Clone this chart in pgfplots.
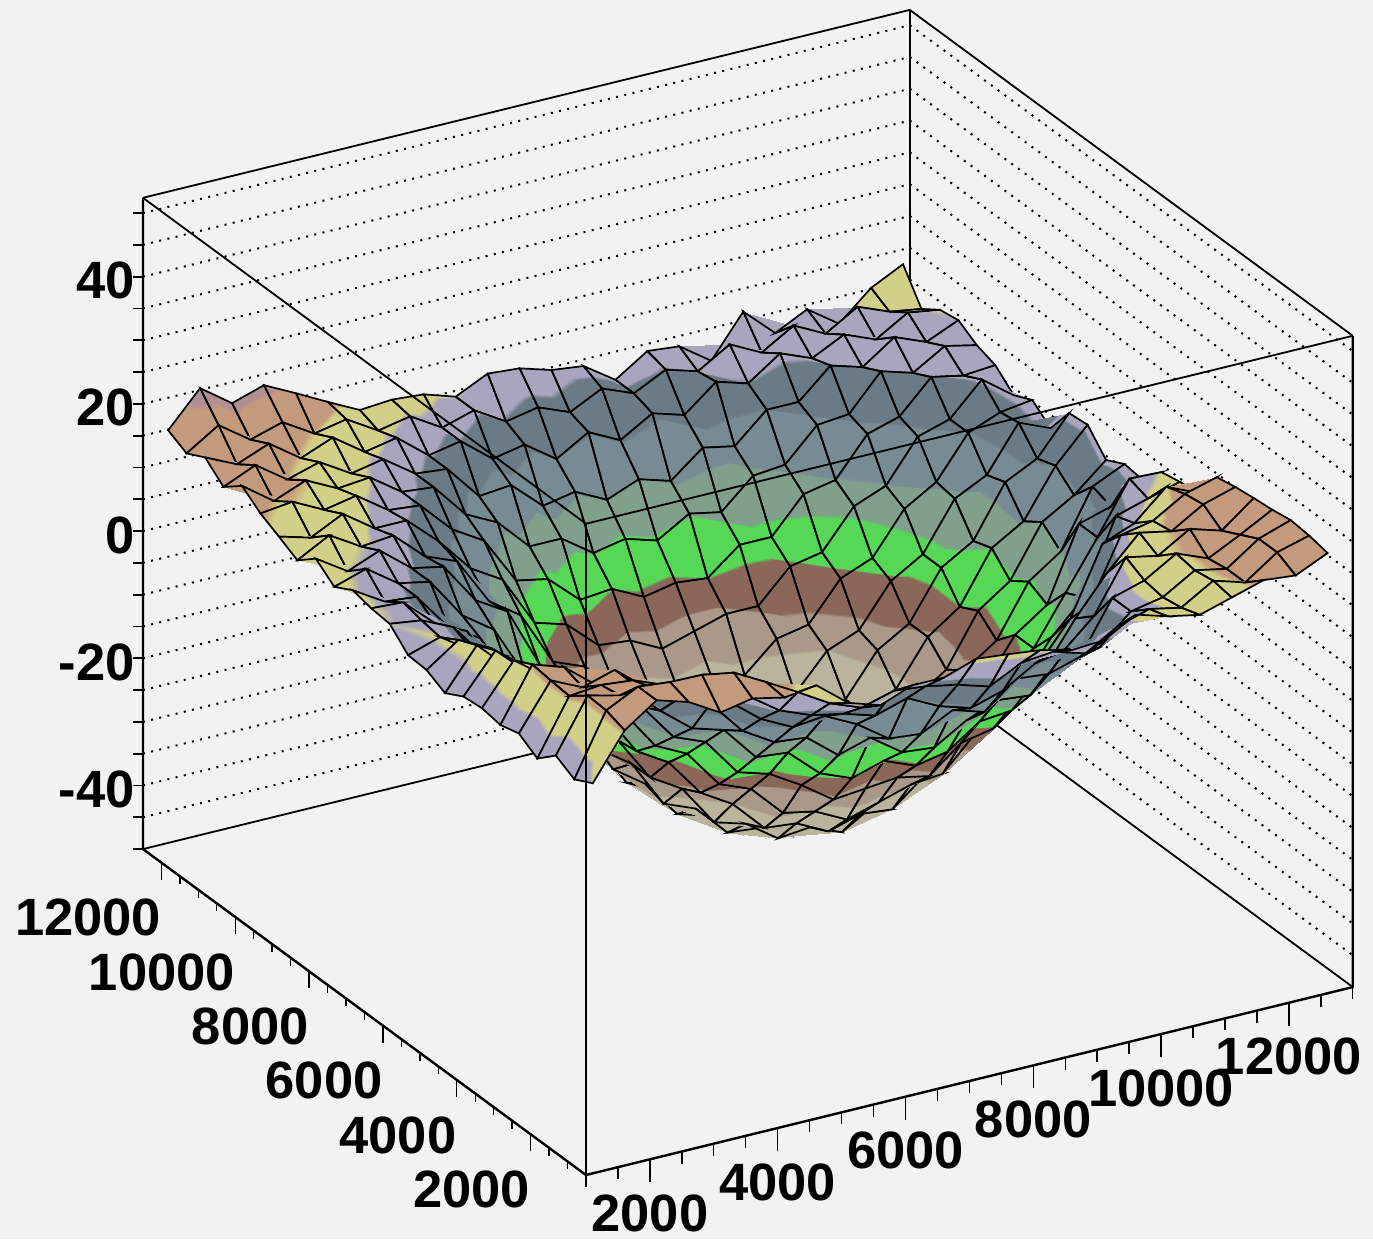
\documentclass[border=0pt]{standalone}
\usepackage{fontspec}
\setmainfont{Liberation Sans}
\usepackage{pgfplots}
\usepackage{pgfplotstable}
\pgfplotsset{compat=1.18}
\definecolor{bg}{HTML}{F2F2F2}
\definecolor{ca}{RGB}{185,180,155}
\definecolor{cb}{RGB}{170,152,136}
\definecolor{cc}{RGB}{138,103,88}
\definecolor{cd}{RGB}{86,215,86}
\definecolor{ce}{RGB}{128,160,140}
\definecolor{cf}{RGB}{118,139,147}
\definecolor{cg}{RGB}{107,122,135}
\definecolor{ch}{RGB}{170,165,190}
\definecolor{ci}{RGB}{210,208,136}
\definecolor{ck}{RGB}{196,154,124}
\definecolor{cm}{RGB}{176,144,148}
\pgfplotsset{
 colormap={allblack}{color=(black) color=(black)},
 colormap={rootbands}{
  color=(ca) color=(ca) color=(ca) color=(ca) color=(ca) color=(ca) color=(ca) color=(ca) color=(ca) color=(ca) color=(ca) color=(ca)
  color=(cb) color=(cb) color=(cb) color=(cb) color=(cb) color=(cb) color=(cb) color=(cb) color=(cb) color=(cb) color=(cb) color=(cb) color=(cb) color=(cb) color=(cb) color=(cb) color=(cb) color=(cb) color=(cb) color=(cb) color=(cb)
  color=(cc) color=(cc) color=(cc) color=(cc) color=(cc) color=(cc) color=(cc) color=(cc) color=(cc) color=(cc) color=(cc) color=(cc) color=(cc) color=(cc) color=(cc) color=(cc) color=(cc) color=(cc)
  color=(cd) color=(cd) color=(cd) color=(cd) color=(cd) color=(cd) color=(cd) color=(cd) color=(cd) color=(cd) color=(cd) color=(cd) color=(cd) color=(cd) color=(cd) color=(cd) color=(cd) color=(cd) color=(cd) color=(cd) color=(cd)
  color=(ce) color=(ce) color=(ce) color=(ce) color=(ce) color=(ce) color=(ce) color=(ce) color=(ce) color=(ce) color=(ce) color=(ce) color=(ce) color=(ce) color=(ce) color=(ce) color=(ce) color=(ce) color=(ce) color=(ce) color=(ce)
  color=(cf) color=(cf) color=(cf) color=(cf) color=(cf) color=(cf) color=(cf) color=(cf) color=(cf) color=(cf) color=(cf) color=(cf) color=(cf) color=(cf) color=(cf) color=(cf) color=(cf) color=(cf) color=(cf) color=(cf) color=(cf) color=(cf) color=(cf)
  color=(cg) color=(cg) color=(cg) color=(cg) color=(cg) color=(cg) color=(cg) color=(cg) color=(cg) color=(cg) color=(cg) color=(cg) color=(cg) color=(cg) color=(cg) color=(cg) color=(cg) color=(cg) color=(cg)
  color=(ch) color=(ch) color=(ch) color=(ch) color=(ch) color=(ch) color=(ch) color=(ch) color=(ch) color=(ch)
  color=(ci) color=(ci) color=(ci) color=(ci) color=(ci) color=(ci) color=(ci) color=(ci) color=(ci)
  color=(ck) color=(ck) color=(ck) color=(ck) color=(ck) color=(ck) color=(ck) color=(ck) color=(ck) color=(ck) color=(ck) color=(ck) color=(ck)
  color=(cm) color=(cm) color=(cm) color=(cm) color=(cm) color=(cm) color=(cm) color=(cm) color=(cm) color=(cm) color=(cm) color=(cm) color=(cm)
 },
}
\pgfplotstableread{
x y z m
1250 750 9.9 11.5
1750 750 17 13.8
2250 750 20.5 15
2750 750 19 16
3250 750 16.1 16.5
3750 750 17.1 16
4250 750 16 13.8
4750 750 16.7 12.8
5250 750 12.7 12.6
5750 750 11.1 12.5
6250 750 13 12.2
6750 750 13 12
7250 750 14.7 12
7750 750 14.2 12
8250 750 13.6 12
8750 750 12.4 12
9250 750 12.7 12
9750 750 15.5 12.2
10250 750 14 12.4
10750 750 13 12.6
11250 750 14.5 13
11750 750 16 14
12250 750 15.5 15
12750 750 17.8 16
}\rA
\pgfplotstableread{
x y z m
1250 1250 8.4 10
1750 1250 18 14
2250 1250 20.5 15.5
2750 1250 20 16
3250 1250 19.9 16.5
3750 1250 19 16
4250 1250 16.3 14.5
4750 1250 13.5 11.5
5250 1250 10.5 10.3
5750 1250 8.6 9.3
6250 1250 10 8.6
6750 1250 9.5 8
7250 1250 8.5 7.8
7750 1250 7 7.8
8250 1250 9.5 8
8750 1250 10 8.6
9250 1250 8.5 9.3
9750 1250 11.5 10.3
10250 1250 13 11.6
10750 1250 12 12
11250 1250 15 13
11750 1250 13.5 13.8
12250 1250 17 15.5
12750 1250 18.4 16
}\rB
\pgfplotstableread{
x y z m
1250 1750 10 10
1750 1750 18.2 14
2250 1750 17 15.5
2750 1750 17 16
3250 1750 15.5 16
3750 1750 14 14.5
4250 1750 12 11
4750 1750 8.5 9.1
5250 1750 6.5 7.8
5750 1750 5.5 6.2
6250 1750 4 4.9
6750 1750 5.5 3.9
7250 1750 3 3.4
7750 1750 1.5 3.4
8250 1750 3 3.9
8750 1750 6 4.9
9250 1750 7 6.2
9750 1750 6 7.8
10250 1750 10.5 9.5
10750 1750 11.5 12.5
11250 1750 14.5 13.3
11750 1750 13.5 14
12250 1750 17 15.5
12750 1750 18.7 16
}\rC
\pgfplotstableread{
x y z m
1250 2250 7.4 9.8
1750 2250 16 13.8
2250 2250 16.5 15.5
2750 2250 16 15.5
3250 2250 14 14.5
3750 2250 10 11
4250 2250 9 8.3
4750 2250 5 6.2
5250 2250 2.5 3.9
5750 2250 3 1.9
6250 2250 0.5 0
6750 2250 -3 -1.3
7250 2250 -3.5 -1.9
7750 2250 -1 -1.9
8250 2250 -2.5 -1.3
8750 2250 1.5 0
9250 2250 1 1.9
9750 2250 2.5 3.9
10250 2250 10.5 9.8
10750 2250 12 12.5
11250 2250 15 13.3
11750 2250 13 14
12250 2250 15.5 15.5
12750 2250 18.2 16
}\rD
\pgfplotstableread{
x y z m
1250 2750 9.2 9.8
1750 2750 16.3 14
2250 2750 14 15
2750 2750 15.5 14.5
3250 2750 10.5 12
3750 2750 8.5 8
4250 2750 6.5 5.3
4750 2750 1 2.4
5250 2750 -2 -0.6
5750 2750 -2.5 -3.3
6250 2750 -6.5 -5.3
6750 2750 -5 -6.8
7250 2750 -8.5 -7.6
7750 2750 -9 -7.6
8250 2750 -6 -6.8
8750 2750 -4 -5.3
9250 2750 -4.5 -3.3
9750 2750 1 -0.6
10250 2750 5.5 7
10750 2750 13.5 12
11250 2750 12.5 13.2
11750 2750 15.5 14
12250 2750 14 15
12750 2750 17.9 16
}\rE
\pgfplotstableread{
x y z m
1250 3250 8.4 9.8
1750 3250 16.7 13.8
2250 3250 15 14
2750 3250 11 12
3250 3250 9 8.3
3750 3250 4.5 5.3
4250 3250 0.5 1.9
4750 3250 -1 -1.9
5250 3250 -6.5 -5.3
5750 3250 -7 -8.3
6250 3250 -11.5 -10.7
6750 3250 -13.5 -12.3
7250 3250 -12 -13.1
7750 3250 -14 -13.1
8250 3250 -13 -12.3
8750 3250 -9.5 -10.7
9250 3250 -9 -8.3
9750 3250 -4 -5.3
10250 3250 3 2
10750 3250 9 10.5
11250 3250 14 13
11750 3250 13 14
12250 3250 16 15
12750 3250 17.5 15.5
}\rF
\pgfplotstableread{
x y z m
1250 3750 8.9 10
1750 3750 15.2 13
2250 3750 11.5 12.5
2750 3750 10.5 9.1
3250 3750 5.5 6.2
3750 3750 3 2.4
4250 3750 -3 -1.9
4750 3750 -5 -6.1
5250 3750 -11 -9.9
5750 3750 -12.5 -13.2
6250 3750 -15.5 -15.9
6750 3750 -19 -17.8
7250 3750 -18.5 -18.8
7750 3750 -18 -18.8
8250 3750 -19 -17.8
8750 3750 -15 -15.9
9250 3750 -14 -13.2
9750 3750 -9 -9.9
10250 3750 -4.5 -6.1
10750 3750 1.5 3
11250 3750 11.5 10.5
11750 3750 12.5 13.2
12250 3750 15.5 14.5
12750 3750 16.9 15
}\rG
\pgfplotstableread{
x y z m
1250 4250 8.6 10
1750 4250 14.6 12.5
2250 4250 10 10.3
2750 4250 8.5 7.8
3250 4250 2.5 3.9
3750 4250 0 -0.6
4250 4250 -6.5 -5.3
4750 4250 -9 -9.9
5250 4250 -15 -14
5750 4250 -17 -17.8
6250 4250 -22 -21
6750 4250 -23 -23.2
7250 4250 -25.5 -24.3
7750 4250 -24 -24.3
8250 4250 -22.5 -23.2
8750 4250 -22 -21
9250 4250 -17 -17.8
9750 4250 -15 -14
10250 4250 -8.5 -9.9
10750 4250 -2.5 -1
11250 4250 8 7
11750 4250 10 11
12250 4250 14.5 13.5
12750 4250 12.3 14
}\rH
\pgfplotstableread{
x y z m
1250 4750 7 10
1750 4750 13.3 12
2250 4750 8.5 9.3
2750 4750 7 6.2
3250 4750 0.5 1.9
3750 4750 -2.5 -3.3
4250 4750 -9.5 -8.3
4750 4750 -12.5 -13.2
5250 4750 -18.5 -17.8
5750 4750 -21.5 -22.2
6250 4750 -26.5 -25.4
6750 4750 -27 -27.5
7250 4750 -29.5 -28.7
7750 4750 -28 -28.7
8250 4750 -28.5 -27.5
8750 4750 -24.5 -25.4
9250 4750 -23 -22.2
9750 4750 -16.5 -17.8
10250 4750 -14 -13.2
10750 4750 -7.5 -8.3
11250 4750 -2.5 -1
11750 4750 9 8
12250 4750 10.5 11.5
12750 4750 11.9 12.5
}\rI
\pgfplotstableread{
x y z m
1250 5250 8.5 10.3
1750 5250 12 11.8
2250 5250 9.5 8.6
2750 5250 3.5 4.9
3250 5250 1 0
3750 5250 -6.5 -5.3
4250 5250 -10 -10.7
4750 5250 -17 -15.9
5250 5250 -20 -21
5750 5250 -26.5 -25.4
6250 5250 -28 -28.7
6750 5250 -31.5 -30.6
7250 5250 -31 -31.8
7750 5250 -33 -31.8
8250 5250 -30 -30.6
8750 5250 -29.5 -28.7
9250 5250 -24.5 -25.4
9750 5250 -22 -21
10250 5250 -15 -15.9
10750 5250 -11.5 -10.7
11250 5250 -4 -5.3
11750 5250 3.5 5
12250 5250 11.5 10.2
12750 5250 11.3 11.5
}\rJ
\pgfplotstableread{
x y z m
1250 5750 8.7 10.5
1750 5750 10.3 11.5
2250 5750 7 8
2750 5750 5 3.9
3250 5750 -2.5 -1.3
3750 5750 -6 -6.8
4250 5750 -13.5 -12.3
4750 5750 -17 -17.8
5250 5750 -24.5 -23.2
5750 5750 -26.5 -27.5
6250 5750 -31.5 -30.6
6750 5750 -32 -32.8
7250 5750 -34.5 -33.7
7750 5750 -33 -33.7
8250 5750 -34 -32.8
8750 5750 -30 -30.6
9250 5750 -28.5 -27.5
9750 5750 -22 -23.2
10250 5750 -18.5 -17.8
10750 5750 -11.5 -12.3
11250 5750 -8 -6.8
11750 5750 3.5 2
12250 5750 5 6
12750 5750 7.9 10.5
}\rK
\pgfplotstableread{
x y z m
1250 6250 11.5 11.3
1750 6250 10.8 10.8
2250 6250 8.5 7.8
2750 6250 2.5 3.4
3250 6250 -1 -1.9
3750 6250 -9 -7.6
4250 6250 -12 -13.1
4750 6250 -20 -18.8
5250 6250 -23.5 -24.3
5750 6250 -29.5 -28.7
6250 6250 -31 -31.8
6750 6250 -35 -33.7
7250 6250 -34 -34.8
7750 6250 -36 -34.8
8250 6250 -33 -33.7
8750 6250 -32.5 -31.8
9250 6250 -28 -28.7
9750 6250 -25.5 -24.3
10250 6250 -18 -18.8
10750 6250 -14.5 -13.1
11250 6250 -6.5 -7.6
11750 6250 -3 -1.9
12250 6250 6 5
12750 6250 8.3 10
}\rL
\pgfplotstableread{
x y z m
1250 6750 11.8 11.5
1750 6750 11.5 10.5
2250 6750 7 7.8
2750 6750 4.5 3.4
3250 6750 -3 -1.9
3750 6750 -6.5 -7.6
4250 6750 -14.5 -13.1
4750 6750 -18 -18.8
5250 6750 -25.5 -24.3
5750 6750 -28 -28.7
6250 6750 -33 -31.8
6750 6750 -32.5 -33.7
7250 6750 -35.5 -34.8
7750 6750 -34 -34.8
8250 6750 -35 -33.7
8750 6750 -31 -31.8
9250 6750 -30 -28.7
9750 6750 -23.5 -24.3
10250 6750 -20 -18.8
10750 6750 -12 -13.1
11250 6750 -8.5 -7.6
11750 6750 -0.5 -1.9
12250 6750 2.5 3.4
12750 6750 6.8 9.5
}\rM
\pgfplotstableread{
x y z m
1250 7250 12.5 11.6
1750 7250 9.5 10.7
2250 7250 9 8
2750 7250 3 3.9
3250 7250 0 -1.3
3750 7250 -8 -6.8
4250 7250 -11.5 -12.3
4750 7250 -19 -17.8
5250 7250 -22.5 -23.2
5750 7250 -28.5 -27.5
6250 7250 -30 -30.6
6750 7250 -33.5 -32.8
7250 7250 -33 -33.7
7750 7250 -35 -33.7
8250 7250 -32 -32.8
8750 7250 -31.5 -30.6
9250 7250 -26.5 -27.5
9750 7250 -24 -23.2
10250 7250 -17 -17.8
10750 7250 -13.5 -12.3
11250 7250 -5.5 -6.8
11750 7250 -2.5 -1.3
12250 7250 5 3.9
12750 7250 10.2 9.5
}\rN
\pgfplotstableread{
x y z m
1250 7750 10.9 11.8
1750 7750 12.5 11
2250 7750 9 10
2750 7750 8 7
3250 7750 1.5 2.5
3750 7750 -2 -3
4250 7750 -10.5 -9
4750 7750 -15 -15.9
5250 7750 -22 -21
5750 7750 -24.5 -25.4
6250 7750 -30 -28.7
6750 7750 -30 -30.6
7250 7750 -32.5 -31.8
7750 7750 -31 -31.8
8250 7750 -31.5 -30.6
8750 7750 -28 -28.7
9250 7750 -26.5 -25.4
9750 7750 -20 -21
10250 7750 -17 -15.9
10750 7750 -9.5 -10.7
11250 7750 -6.5 -5.3
11750 7750 1.5 0
12250 7750 4 4.9
12750 7750 9.9 9.5
}\rO
\pgfplotstableread{
x y z m
1250 8250 13.2 12
1750 8250 10 11.4
2250 8250 12 11
2750 8250 8 9
3250 8250 7 5.8
3750 8250 0.5 1.6
4250 8250 -2.5 -3.5
4750 8250 -12 -11
5250 8250 -17 -17.8
5750 8250 -23.5 -22.2
6250 8250 -24.5 -25.4
6750 8250 -28.5 -27.5
7250 8250 -28 -28.7
7750 8250 -30 -28.7
8250 8250 -27 -27.5
8750 8250 -26.5 -25.4
9250 8250 -21 -22.2
9750 8250 -19 -17.8
10250 8250 -12.5 -13.2
10750 8250 -9.5 -8.3
11250 8250 -2 -3.3
11750 8250 0.5 1.9
12250 8250 7.5 6.2
12750 8250 5.4 9.3
}\rP
\pgfplotstableread{
x y z m
1250 8750 10.8 12.6
1750 8750 13.5 12
2250 8750 10.5 11.8
2750 8750 11 10
3250 8750 6.5 7.6
3750 8750 4.5 3.6
4250 8750 -3 -1.5
4750 8750 -6.5 -7
5250 8750 -15 -14
5750 8750 -17 -17.8
6250 8750 -22 -21
6750 8750 -22.5 -23.2
7250 8750 -25.5 -24.3
7750 8750 -24 -24.3
8250 8750 -24.5 -23.2
8750 8750 -20 -21
9250 8750 -19 -17.8
9750 8750 -13 -14
10250 8750 -11 -9.9
10750 8750 -4.5 -5.3
11250 8750 -1.5 -0.6
11750 8750 5 3.9
12250 8750 7 7.8
12750 8750 7.7 9.6
}\rQ
\pgfplotstableread{
x y z m
1250 9250 12.4 13.2
1750 9250 11 12.6
2250 9250 13.5 12.6
2750 9250 10 11.1
3250 9250 10 9.1
3750 9250 5.5 6.2
4250 9250 0 1
4750 9250 -3 -4
5250 9250 -11 -9.9
5750 9250 -12.5 -13.2
6250 9250 -17 -15.9
6750 9250 -17.5 -17.8
7250 9250 -20 -18.8
7750 9250 -18.5 -18.8
8250 9250 -17 -17.8
8750 9250 -17 -15.9
9250 9250 -12 -13.2
9750 9250 -11 -9.9
10250 9250 -5 -6.1
10750 9250 -3 -1.9
11250 9250 3.5 2.4
11750 9250 5 6.2
12250 9250 10 9
12750 9250 6.3 9.9
}\rR
\pgfplotstableread{
x y z m
1250 9750 13.9 13.8
1750 9750 14.5 13.2
2250 9750 12 13
2750 9750 13 11.9
3250 9750 9.5 10.4
3750 9750 9 8.2
4250 9750 4 5
4750 9750 1 0
5250 9750 -6.5 -5.3
5750 9750 -7.5 -8.3
6250 9750 -12 -10.7
6750 9750 -11.5 -12.3
7250 9750 -14 -13.1
7750 9750 -13 -13.1
8250 9750 -13.5 -12.3
8750 9750 -9.5 -10.7
9250 9750 -9.5 -8.3
9750 9750 -4 -5.3
10250 9750 -3 -1.9
10750 9750 3 1.9
11250 9750 4.5 5.3
11750 9750 9.5 8.3
12250 9750 8.5 9.7
12750 9750 8.9 10.4
}\rS
\pgfplotstableread{
x y z m
1250 10250 16.1 14.5
1750 10250 12.5 13.9
2250 10250 14.5 13.6
2750 10250 12 12.6
3250 10250 12.5 11.4
3750 10250 9 9.9
4250 10250 8.5 7.6
4750 10250 3 4
5250 10250 0.5 -0.6
5750 10250 -4.5 -3.3
6250 10250 -4.5 -5.3
6750 10250 -8 -6.8
7250 10250 -7 -7.6
7750 10250 -8.5 -7.6
8250 10250 -5.5 -6.8
8750 10250 -6.5 -5.3
9250 10250 -2 -3.3
9750 10250 -1.5 -0.6
10250 10250 3.5 2.4
10750 10250 4 5.3
11250 10250 9.5 8
11750 10250 8 9.45
12250 10250 11 10.1
12750 10250 9.9 10.7
}\rT
\pgfplotstableread{
x y z m
1250 10750 13.8 15.2
1750 10750 16 14.6
2250 10750 12.5 13.6
2750 10750 14 13
3250 10750 11 12
3750 10750 12 10.8
4250 10750 8.5 9.2
4750 10750 8 7.2
5250 10750 2.5 3.9
5750 10750 3 1.9
6250 10750 -1.5 0
6750 10750 -0.5 -1.3
7250 10750 -3 -1.9
7750 10750 -1 -1.9
8250 10750 -2.5 -1.3
8750 10750 1.5 0
9250 10750 0.5 1.9
9750 10750 5 3.9
10250 10750 5 6.2
10750 10750 9.5 8.3
11250 10750 8 9.45
11750 10750 11.5 10.1
12250 10750 9.5 10.6
12750 10750 11.7 11.1
}\rU
\pgfplotstableread{
x y z m
1250 11250 16.3 16.1
1750 11250 14 15.5
2250 11250 16 14.5
2750 11250 12.5 13.5
3250 11250 14.5 13
3750 11250 11 12
4250 11250 12 10.9
4750 11250 8 9.1
5250 11250 9 7.8
5750 11250 5 6.2
6250 11250 6 4.9
6750 11250 2.5 3.9
7250 11250 5.5 4.4
7750 11250 3 4.4
8250 11250 6 4.9
8750 11250 4.5 5.9
9250 11250 8.5 7
9750 11250 7 8.8
10250 11250 10.5 9.4
10750 11250 8.5 9.9
11250 11250 11 10.1
11750 11250 9 10.6
12250 11250 12 11
12750 11250 11.2 11.5
}\rV
\pgfplotstableread{
x y z m
1250 11750 14.8 16.4
1750 11750 18 16.3
2250 11750 14.5 15.4
2750 11750 16 14.5
3250 11750 13 13.6
3750 11750 14 12.8
4250 11750 11 12
4750 11750 12 11.1
5250 11750 9 10.3
5750 11750 10.5 9.3
6250 11750 7.5 8.6
6750 11750 8.5 8
7250 11750 6.5 7.8
7750 11750 9 7.8
8250 11750 7 8
8750 11750 9.5 8.6
9250 11750 8 9.1
9750 11750 11 9.6
10250 11750 8.5 9.9
10750 11750 11.5 10.4
11250 11750 9 10.7
11750 11750 12 11.1
12250 11750 10 11.5
12750 11750 9.2 11.9
}\rW
\pgfplotstableread{
x y z m
1250 12250 16.3 16
1750 12250 21.7 17.5
2250 12250 18.1 17.5
2750 12250 19.7 17.5
3250 12250 17.2 16
3750 12250 14.6 13.9
4250 12250 12.1 13.2
4750 12250 12.5 12.6
5250 12250 12.1 12
5750 12250 10.5 11.4
6250 12250 12.9 11
6750 12250 12.5 10.7
7250 12250 11 9.7
7750 12250 10.4 9.7
8250 12250 7 9.8
8750 12250 10.3 9.9
9250 12250 9.8 10.1
9750 12250 6.3 10.4
10250 12250 12.8 10.6
10750 12250 8.2 10.9
11250 12250 10.7 11.2
11750 12250 7.2 11.5
12250 12250 11.6 11.9
12750 12250 14.1 12.3
}\rX
\newcommand{\mk}[3]{\pgfplotstablevertcat{#1}{#2}\pgfplotstablevertcat{#1}{#3}}
\mk{\sA}{\rA}{\rB}\mk{\sB}{\rB}{\rC}\mk{\sC}{\rC}{\rD}\mk{\sD}{\rD}{\rE}\mk{\sE}{\rE}{\rF}\mk{\sF}{\rF}{\rG}
\mk{\sG}{\rG}{\rH}\mk{\sH}{\rH}{\rI}\mk{\sI}{\rI}{\rJ}\mk{\sJ}{\rJ}{\rK}\mk{\sK}{\rK}{\rL}\mk{\sL}{\rL}{\rM}
\mk{\sM}{\rM}{\rN}\mk{\sN}{\rN}{\rO}\mk{\sO}{\rO}{\rP}\mk{\sP}{\rP}{\rQ}\mk{\sQ}{\rQ}{\rR}\mk{\sR}{\rR}{\rS}
\mk{\sS}{\rS}{\rT}\mk{\sT}{\rT}{\rU}\mk{\sU}{\rU}{\rV}\mk{\sV}{\rV}{\rW}\mk{\sW}{\rW}{\rX}
\newcommand{\lab}{\fontsize{26.25}{30}\selectfont\bfseries}
\newcommand{\strip}[1]{%
 \addplot3[surf,shader=interp,z buffer=sort,colormap name=rootbands,point meta=explicit,mesh/cols=24,mesh/rows=2] table[x=x,y=y,z=z,meta=m]{#1};
 \addplot3[mesh,colormap name=allblack,line width=0.85pt,point meta=z,mesh/cols=24,mesh/rows=2] table[x=x,y=y,z=z]{#1};
}
\begin{document}
\begin{tikzpicture}
\begin{axis}[
 x={(0.03195pt,0.007833pt)},y={(-0.01846pt,0.013583pt)},z={(0pt,3.18pt)},
 xmin=1000,xmax=13000,ymin=500,ymax=12500,zmin=-50,zmax=52.4,
 hide axis,clip=false,
 point meta min=-25,point meta max=20,
]
% page background
\fill[bg] ([shift={(-293pt,-32pt)}]axis cs:1000,500,-50) rectangle ([shift={(393.5pt,587.5pt)}]axis cs:1000,500,-50);
% dotted wall lines
\pgfplotsinvokeforeach{-45,-40,...,50}{
 \draw[black,line width=1pt,dash pattern=on 1pt off 3.2pt] (axis cs:1000,12500,#1)--(axis cs:13000,12500,#1)--(axis cs:13000,500,#1);
}
% back box
\draw[black,line width=0.9pt] (axis cs:1000,12500,-50)--(axis cs:13000,12500,-50)--(axis cs:13000,500,-50);
\draw[black,line width=0.9pt] (axis cs:13000,12500,-50)--(axis cs:13000,12500,52.4);
\draw[black,line width=0.9pt] (axis cs:1000,12500,52.4)--(axis cs:13000,12500,52.4)--(axis cs:13000,500,52.4);
% surface, strip by strip from the back row to the front row
\strip{\sW}\strip{\sV}\strip{\sU}\strip{\sT}\strip{\sS}\strip{\sR}\strip{\sQ}\strip{\sP}\strip{\sO}\strip{\sN}\strip{\sM}\strip{\sL}
\strip{\sK}\strip{\sJ}\strip{\sI}\strip{\sH}\strip{\sG}\strip{\sF}\strip{\sE}\strip{\sD}\strip{\sC}\strip{\sB}\strip{\sA}
% front box
\draw[black,line width=0.9pt] (axis cs:1000,12500,52.4)--(axis cs:1000,500,52.4)--(axis cs:13000,500,52.4);
\draw[black,line width=0.9pt] (axis cs:1000,500,52.4)--(axis cs:1000,500,-50);
\draw[black,line width=1.2pt] (axis cs:1000,12500,52.4)--(axis cs:1000,12500,-50)--(axis cs:1000,500,-50)--(axis cs:13000,500,-50)--(axis cs:13000,500,52.4);
% z ticks
\pgfplotsinvokeforeach{-50,-45,...,50}{
 \draw[black,line width=0.9pt] (axis cs:1000,12500,#1)--++(-5pt,0pt);
}
% y ticks
\pgfplotsinvokeforeach{500,1000,1500,2500,3000,3500,4500,5000,5500,6500,7000,7500,8500,9000,9500,10500,11000,11500}{
 \draw[black,line width=0.7pt] (axis cs:1000,#1,-50)--++(0pt,-4pt);
}
\pgfplotsinvokeforeach{2000,4000,6000,8000,10000,12000}{
 \draw[black,line width=0.7pt] (axis cs:1000,#1,-50)--++(0pt,-8.5pt);
 \node[anchor=east,inner sep=0pt,font=\lab] at ([shift={(0pt,-27.5pt)}]axis cs:1000,#1,-50) {#1};
}
% x ticks
\pgfplotsinvokeforeach{1000,1500,2500,3000,3500,4500,5000,5500,6500,7000,7500,8500,9000,9500,10500,11000,11500,12500,13000}{
 \draw[black,line width=0.7pt] (axis cs:#1,500,-50)--++(0pt,-6pt);
}
\pgfplotsinvokeforeach{2000,4000,6000,8000,10000,12000}{
 \draw[black,line width=0.7pt] (axis cs:#1,500,-50)--++(0pt,-11.5pt);
 \node[anchor=center,inner sep=0pt,font=\lab] at ([shift={(0pt,-27pt)}]axis cs:#1,500,-50) {#1};
}
% z labels
\pgfplotsinvokeforeach{-40,-20,0,20,40}{
 \node[anchor=east,inner sep=0pt,font=\lab] at ([shift={(-4pt,-2pt)}]axis cs:1000,12500,#1) {#1};
}
\end{axis}
\end{tikzpicture}
\end{document}
